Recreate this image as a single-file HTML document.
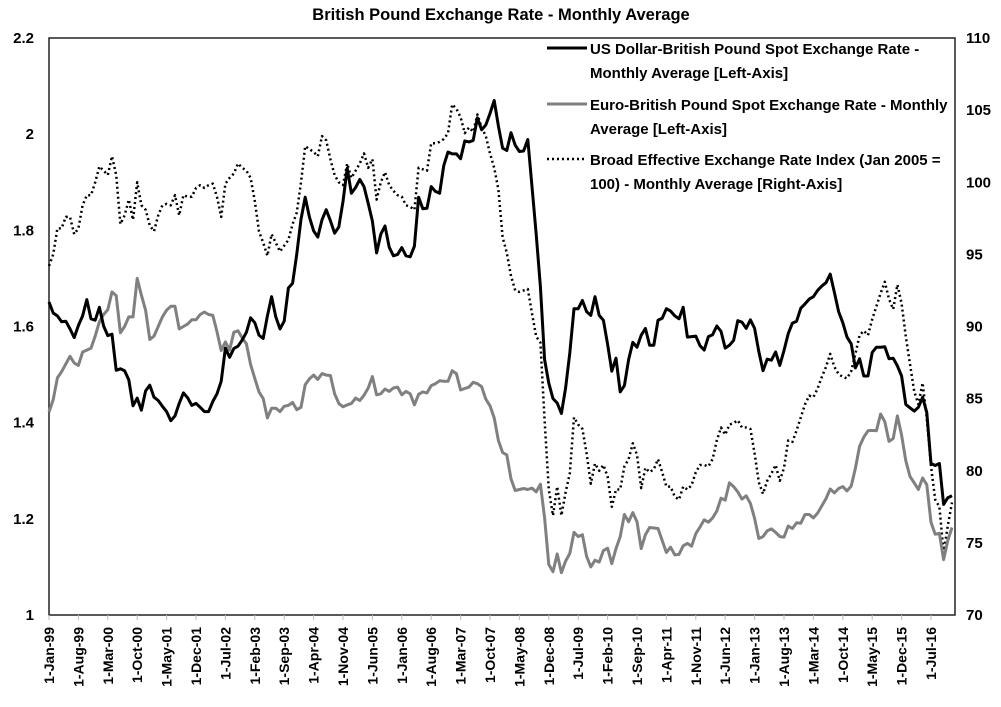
<!DOCTYPE html>
<html><head><meta charset="utf-8"><style>
html,body{margin:0;padding:0;background:#fff;}
svg{display:block;font-family:"Liberation Sans",sans-serif;font-weight:bold;}
</style></head><body>
<svg id="chart" width="1001" height="707" viewBox="0 0 1001 707" xmlns="http://www.w3.org/2000/svg">
<text x="501" y="20" text-anchor="middle" font-size="16.5">British Pound Exchange Rate - Monthly Average</text>
<rect x="49" y="38" width="906" height="577" fill="none" stroke="#222" stroke-width="1.5"/>
<g id="axes"></g>
<g id="series"></g>
<g>
<line x1="547" y1="48" x2="587" y2="48" stroke="#000" stroke-width="3"/>
<text font-size="15"><tspan x="590" y="54">US Dollar-British Pound Spot Exchange Rate -</tspan><tspan x="590" y="78">Monthly Average [Left-Axis]</tspan></text>
<line x1="547" y1="104" x2="587" y2="104" stroke="#808080" stroke-width="3"/>
<text font-size="15"><tspan x="590" y="110">Euro-British Pound Spot Exchange Rate - Monthly</tspan><tspan x="590" y="134">Average [Left-Axis]</tspan></text>
<line x1="547" y1="159" x2="587" y2="159" stroke="#000" stroke-width="2.5" stroke-dasharray="2,3"/>
<text font-size="15"><tspan x="590" y="165">Broad Effective Exchange Rate Index (Jan 2005 =</tspan><tspan x="590" y="189">100) - Monthly Average [Right-Axis]</tspan></text>
</g>
</svg>
<script>
const leftTicks = [1, 1.2, 1.4, 1.6, 1.8, 2, 2.2];
const rightTicks = [70, 75, 80, 85, 90, 95, 100, 105, 110];
const xTickLabels = ["1-Jan-99","1-Aug-99","1-Mar-00","1-Oct-00","1-May-01","1-Dec-01","1-Jul-02","1-Feb-03","1-Sep-03","1-Apr-04","1-Nov-04","1-Jun-05","1-Jan-06","1-Aug-06","1-Mar-07","1-Oct-07","1-May-08","1-Dec-08","1-Jul-09","1-Feb-10","1-Sep-10","1-Apr-11","1-Nov-11","1-Jun-12","1-Jan-13","1-Aug-13","1-Mar-14","1-Oct-14","1-May-15","1-Dec-15","1-Jul-16"];
const usd = [
1.651,1.628,1.622,1.610,1.611,1.595,1.577,1.602,1.622,1.656,1.616,1.613,
1.640,1.601,1.581,1.584,1.509,1.512,1.508,1.489,1.435,1.451,1.426,1.466,
1.478,1.453,1.446,1.434,1.423,1.404,1.414,1.440,1.462,1.452,1.436,1.440,
1.432,1.423,1.423,1.444,1.460,1.486,1.555,1.536,1.554,1.559,1.572,1.588,
1.618,1.608,1.582,1.575,1.622,1.662,1.620,1.595,1.611,1.680,1.690,1.751,
1.823,1.869,1.828,1.799,1.786,1.822,1.843,1.820,1.794,1.807,1.860,1.929,
1.877,1.889,1.906,1.891,1.856,1.819,1.753,1.792,1.809,1.765,1.747,1.750,
1.764,1.747,1.745,1.767,1.869,1.845,1.846,1.891,1.881,1.877,1.935,1.963,
1.959,1.959,1.949,1.986,1.984,1.987,2.034,2.009,2.019,2.043,2.070,2.017,
1.971,1.966,2.003,1.977,1.964,1.965,1.989,1.891,1.792,1.683,1.531,1.482,
1.450,1.441,1.419,1.472,1.545,1.637,1.637,1.654,1.631,1.623,1.662,1.623,
1.613,1.563,1.507,1.534,1.464,1.477,1.531,1.567,1.557,1.582,1.596,1.561,
1.561,1.613,1.617,1.637,1.632,1.622,1.616,1.640,1.578,1.579,1.580,1.560,
1.551,1.579,1.583,1.601,1.590,1.555,1.561,1.571,1.612,1.609,1.596,1.614,
1.596,1.548,1.508,1.532,1.530,1.547,1.519,1.550,1.585,1.607,1.611,1.638,
1.647,1.657,1.662,1.675,1.684,1.691,1.709,1.671,1.631,1.608,1.578,1.564,
1.514,1.533,1.497,1.497,1.546,1.557,1.557,1.558,1.533,1.534,1.518,1.497,
1.438,1.431,1.424,1.432,1.453,1.421,1.315,1.311,1.315,1.230,1.244,1.248];
const eur = [
1.422,1.448,1.493,1.506,1.522,1.538,1.524,1.519,1.547,1.551,1.555,1.580,
1.610,1.625,1.635,1.672,1.664,1.587,1.600,1.620,1.620,1.700,1.665,1.634,
1.573,1.580,1.600,1.620,1.634,1.642,1.642,1.595,1.600,1.605,1.614,1.614,
1.625,1.630,1.625,1.623,1.589,1.550,1.568,1.551,1.588,1.591,1.576,1.564,
1.521,1.492,1.464,1.450,1.410,1.430,1.430,1.423,1.434,1.436,1.442,1.427,
1.432,1.479,1.491,1.499,1.490,1.502,1.499,1.498,1.460,1.440,1.433,1.437,
1.440,1.451,1.446,1.457,1.472,1.496,1.458,1.460,1.470,1.465,1.472,1.474,
1.458,1.465,1.460,1.437,1.459,1.464,1.462,1.477,1.481,1.487,1.486,1.486,
1.508,1.502,1.468,1.471,1.474,1.484,1.481,1.475,1.449,1.435,1.410,1.363,
1.338,1.333,1.283,1.259,1.261,1.263,1.261,1.264,1.256,1.272,1.202,1.105,
1.090,1.127,1.088,1.112,1.128,1.172,1.163,1.167,1.122,1.100,1.114,1.110,
1.134,1.139,1.107,1.138,1.163,1.209,1.194,1.213,1.194,1.138,1.167,1.182,
1.181,1.180,1.155,1.130,1.141,1.125,1.126,1.144,1.149,1.143,1.169,1.183,
1.198,1.193,1.202,1.216,1.243,1.239,1.275,1.267,1.256,1.241,1.248,1.232,
1.201,1.159,1.163,1.175,1.179,1.172,1.163,1.162,1.185,1.180,1.192,1.191,
1.209,1.209,1.202,1.212,1.227,1.242,1.262,1.254,1.263,1.267,1.258,1.268,
1.305,1.351,1.370,1.383,1.384,1.383,1.418,1.402,1.361,1.367,1.414,1.374,
1.321,1.288,1.275,1.261,1.285,1.271,1.193,1.168,1.170,1.115,1.155,1.182];
const eri = [
94.2,95.0,96.8,96.8,97.6,97.6,96.4,96.8,98.4,99.1,99.1,100.0,
101.1,100.8,100.5,101.8,100.5,97.1,97.7,98.8,97.4,100.0,98.4,98.1,
97.0,96.6,97.7,98.4,98.5,98.4,99.1,97.7,99.1,99.0,99.0,99.6,
99.8,99.6,99.8,99.9,99.0,97.6,99.9,100.3,100.6,101.3,101.0,100.8,
100.3,98.7,96.6,95.8,94.9,96.4,95.8,95.2,95.6,96.0,97.1,97.9,
100.0,102.5,102.3,102.1,101.8,103.2,102.9,101.6,100.5,100.0,99.8,101.3,
100.3,100.8,101.3,102.0,101.0,101.6,98.8,100.0,100.7,99.8,99.4,99.1,
99.0,98.4,98.3,98.1,101.0,100.9,100.8,102.7,102.7,102.8,103.0,103.4,
105.4,105.1,104.5,103.4,103.8,103.5,104.7,103.8,103.2,102.0,101.0,99.5,
96.2,95.1,93.5,92.5,92.4,92.5,92.6,90.9,89.3,88.9,83.5,78.7,
76.9,78.9,76.9,78.5,79.8,83.7,83.2,82.9,81.2,79.1,80.5,80.0,
80.4,79.6,77.5,78.7,78.7,80.3,80.8,81.9,81.1,78.8,80.2,79.9,
80.1,80.8,79.9,78.9,78.9,78.2,78.0,78.9,78.7,79.0,79.9,80.4,
80.4,80.3,80.8,82.1,83.0,82.5,83.2,83.3,83.5,83.0,83.0,82.9,
81.2,79.2,78.4,79.3,79.8,80.4,79.3,80.2,82.1,82.0,82.8,83.7,
84.6,85.2,85.1,85.7,86.5,87.2,88.1,87.2,86.7,86.5,86.4,86.9,
88.1,89.4,89.7,89.4,90.5,91.4,92.3,93.1,91.9,91.2,92.9,91.6,
89.3,87.4,85.5,84.6,86.1,83.6,80.3,78.0,77.5,74.3,76.2,77.8];

const NS = "http://www.w3.org/2000/svg";
const X0 = 49, PX_PER_MONTH = 4.2, TOP = 38, BOT = 615;
function xOf(i){ return X0 + i * PX_PER_MONTH; }
function yLeft(v){ return BOT - (v - 1) / 1.2 * (BOT - TOP); }
function yRight(v){ return BOT - (v - 70) / 40 * (BOT - TOP); }
function mk(tag, attrs, parent){
  const el = document.createElementNS(NS, tag);
  for (const k in attrs) el.setAttribute(k, attrs[k]);
  parent.appendChild(el);
  return el;
}
const axes = document.getElementById('axes');
leftTicks.forEach(v => {
  const t = mk('text', {x: 34, y: yLeft(v) + 5, 'text-anchor': 'end', 'font-size': 15}, axes);
  
  
  t.textContent = String(v);
});
rightTicks.forEach(v => {
  const t = mk('text', {x: 966, y: yRight(v) + 5, 'font-size': 15}, axes);
  
  
  t.textContent = String(v);
});
xTickLabels.forEach((lab, k) => {
  const x = xOf(k * 7);
  const tk = mk('line', {x1: x, y1: 615, x2: x, y2: 620, stroke: '#bbb', 'stroke-width': 1}, axes);
  
  
  const t = mk('text', {x: 0, y: 0, 'text-anchor': 'end', 'font-size': 14, transform: 'translate(' + (x + 5) + ',627) rotate(-90)'}, axes);
  
  
  t.textContent = lab;
});
const series = document.getElementById('series');
function drawLine(arr, yf, attrs, name){
  const pts = arr.map((v, i) => xOf(i).toFixed(1) + ',' + yf(v).toFixed(1)).join(' ');
  const p = mk('polyline', Object.assign({points: pts, fill: 'none', 'stroke-linejoin': 'round'}, attrs), series);
  
  
}
drawLine(eri, yRight, {stroke: '#000', 'stroke-width': 2.5, 'stroke-dasharray': '2,3'}, 'eri-index-line');
drawLine(eur, yLeft, {stroke: '#808080', 'stroke-width': 3}, 'eur-gbp-line');
drawLine(usd, yLeft, {stroke: '#000', 'stroke-width': 3}, 'usd-gbp-line');
</script>
</body></html>
